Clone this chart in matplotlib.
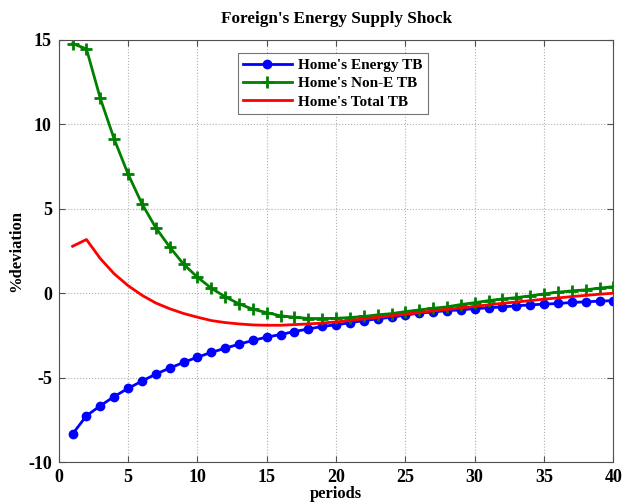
import numpy as np
import matplotlib
matplotlib.use('Agg')
import matplotlib.pyplot as plt

plt.rcParams['font.family'] = ['Liberation Serif', 'DejaVu Serif']
plt.rcParams['font.weight'] = 'bold'
plt.rcParams['axes.unicode_minus'] = False

periods = np.arange(1, 41)

energy_tb = [-8.34, -7.26, -6.67, -6.12, -5.64, -5.21, -4.79, -4.44, -4.10, -3.79,
             -3.51, -3.26, -3.02, -2.80, -2.60, -2.45, -2.27, -2.12, -1.97, -1.87,
             -1.75, -1.62, -1.52, -1.42, -1.30, -1.18, -1.11, -1.03, -0.99, -0.91,
             -0.87, -0.81, -0.75, -0.69, -0.65, -0.61, -0.55, -0.51, -0.47, -0.44]

non_e_tb = [14.79, 14.47, 11.54, 9.13, 7.06, 5.30, 3.88, 2.74, 1.72, 0.95,
            0.30, -0.21, -0.63, -0.95, -1.15, -1.34, -1.42, -1.50, -1.50, -1.49,
            -1.44, -1.38, -1.28, -1.21, -1.09, -0.99, -0.89, -0.81, -0.67, -0.56,
            -0.44, -0.34, -0.26, -0.16, -0.04, 0.06, 0.14, 0.20, 0.30, 0.39]

total_tb = [2.78, 3.18, 2.05, 1.15, 0.45, -0.12, -0.58, -0.92, -1.20, -1.42,
            -1.62, -1.74, -1.82, -1.88, -1.90, -1.90, -1.86, -1.82, -1.77, -1.70,
            -1.62, -1.52, -1.43, -1.34, -1.24, -1.15, -1.05, -0.96, -0.87, -0.78,
            -0.69, -0.60, -0.52, -0.44, -0.35, -0.28, -0.20, -0.13, -0.06, 0.00]

fig = plt.figure(figsize=(6.22, 5.03), dpi=100)
ax = fig.add_axes([0.0944, 0.0815, 0.8918, 0.839])

ax.plot(periods, energy_tb, '-o', color='#0000ff', lw=2, ms=6, label="Home's Energy TB")
ax.plot(periods, non_e_tb, '-+', color='#008000', lw=2, ms=8, mew=2, label="Home's Non-E TB")
ax.plot(periods, total_tb, '-', color='#ff0000', lw=2, label="Home's Total TB")

ax.set_xlim(0, 40)
ax.set_ylim(-10, 15)
ax.set_xticks(np.arange(0, 41, 5))
ax.set_yticks(np.arange(-10, 16, 5))
ax.grid(True, linestyle=':', color='#b0b0b0', lw=0.8)
ax.tick_params(direction='in', top=True, right=True, labelsize=13, length=4,
               color='#505050', pad=5)
for s in ax.spines.values():
    s.set_color('#505050')

ax.set_title("Foreign's Energy Supply Shock", fontsize=12.3, fontweight='bold', pad=12)
ax.set_xlabel('periods', fontsize=12, fontweight='bold')
ax.set_ylabel('%deviation', fontsize=12, fontweight='bold')
ax.xaxis.set_label_coords(0.5, -0.058)
ax.yaxis.set_label_coords(-0.063, 0.5)

leg = ax.legend(loc='upper center', bbox_to_anchor=(0.494, 0.987), fontsize=11,
                fancybox=False, edgecolor='#505050', handlelength=3.2,
                borderpad=0.35, labelspacing=0.3, handletextpad=0.4)
leg.get_frame().set_linewidth(0.8)

plt.savefig('out.png', dpi=100)
